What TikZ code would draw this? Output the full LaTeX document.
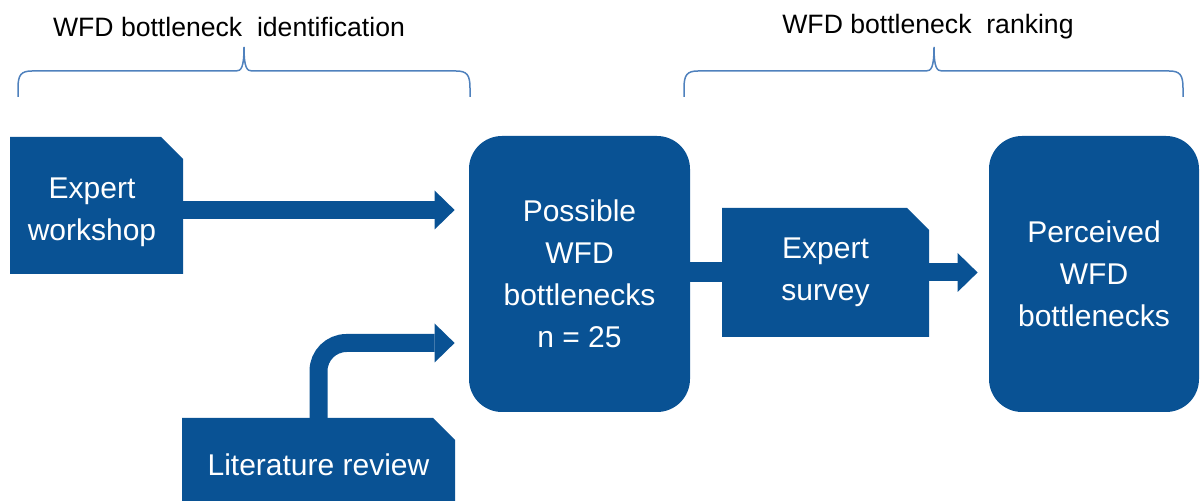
\documentclass[tikz,border=0pt]{standalone}
\usepackage{fontspec}
\setmainfont{Liberation Sans}
\usetikzlibrary{arrows.meta}
\definecolor{boxblue}{RGB}{9,82,148}
\definecolor{bracecol}{RGB}{79,129,189}
\begin{document}
\begin{tikzpicture}[x=0.5pt,y=-0.5pt,
  boxtext/.style={text=white,font=\fontsize{15pt}{21pt}\selectfont,align=center,inner sep=0pt},
  docbox/.style={boxtext, path picture={\fill[boxblue] (path picture bounding box.north west) -- ([xshift=-11pt]path picture bounding box.north east) -- ([yshift=-11pt]path picture bounding box.north east) -- (path picture bounding box.south east) -- (path picture bounding box.south west) -- cycle;}},
  roundbox/.style={boxtext, fill=boxblue, rounded corners=16.5pt},
  bigarrow/.style={draw=boxblue, line width=9pt, -{Triangle[length=10pt,width=19.5pt,line width=0pt]}},
  bracepath/.style={draw=bracecol, line width=0.75pt},
  header/.style={font=\fontsize{13.3pt}{16pt}\selectfont, inner sep=0pt}
]
\useasboundingbox (0,0) rectangle (1200,501);

% headers
\node[header] (h1) at (229,27) {WFD bottleneck\ \ identification};
\node[header] (h2) at (928,27) {WFD bottleneck\ \ ranking};

% braces
\draw[bracepath] (18,97) -- (18,88) .. controls (18,75) and (21,71) .. (32,71) -- (236,71) .. controls (241,71) and (244,68) .. (244,47) .. controls (244,68) and (247,71) .. (252,71) -- (456,71) .. controls (467,71) and (470,75) .. (470,88) -- (470,97);
\draw[bracepath] (684,97) -- (684,88) .. controls (684,75) and (687,71) .. (698,71) -- (926,71) .. controls (931,71) and (934,68) .. (934,47) .. controls (934,68) and (937,71) .. (942,71) -- (1169,71) .. controls (1180,71) and (1183,75) .. (1183,88) -- (1183,97);

% boxes
\node[docbox, minimum width=86.5pt, minimum height=68.5pt,
      label={[boxtext, xshift=-2.25pt, yshift=-3.25pt]center:Expert\\workshop}] (ws) at (96.5,205.5) {};
\node[roundbox, minimum width=110.5pt, minimum height=138pt] (pos) at (579.5,274) {Possible\\WFD\\bottlenecks\\n = 25};
\node[docbox, minimum width=103.5pt, minimum height=64.5pt] (survey) at (825.5,272.5) {Expert\\survey};
\node[roundbox, minimum width=105pt, minimum height=138pt] (perc) at (1094,274) {Perceived\\WFD\\bottlenecks};
\node[docbox, minimum width=136.5pt, minimum height=47pt] (lit) at (318.5,465) {Literature review};

% connectors
\coordinate (a1s) at ([yshift=-2.25pt]ws.east);
\coordinate (a1p) at (a1s -| pos.west);
\draw[bigarrow] ([xshift=-0.5pt]a1s) -- ([xshift=-7pt]a1p);

\coordinate (a2e) at ([shift={(-7pt,-34.5pt)}]pos.west);
\draw[bigarrow, rounded corners=14pt] ([yshift=-0.5pt]lit.north) |- (a2e);

\coordinate (a3s) at (pos.east |- survey.west);
\draw[draw=boxblue, line width=10pt] ([xshift=-0.5pt]a3s) -- ([xshift=0.5pt]survey.west);

\coordinate (a4p) at (survey.east -| perc.west);
\draw[bigarrow] ([xshift=-0.5pt]survey.east) -- ([xshift=-5.5pt]a4p);
\end{tikzpicture}
\end{document}
